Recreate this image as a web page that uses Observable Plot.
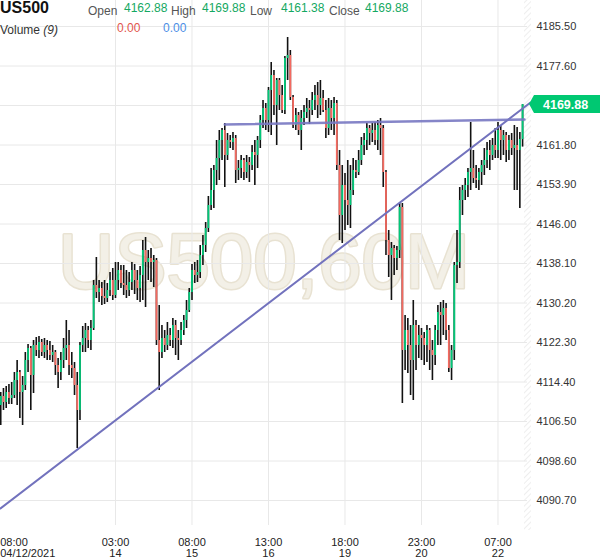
<!DOCTYPE html>
<html><head><meta charset="utf-8">
<script src="https://cdn.jsdelivr.net/npm/d3@7"></script>
<script src="https://cdn.jsdelivr.net/npm/@observablehq/plot@0.6"></script>
<style>
html,body{margin:0;padding:0;background:#fff;}
#chart{width:600px;height:558px;}
</style></head><body><div id="chart"></div>
<script>
// ---- data (60-minute bars, US500) ----
const symbol = "US500";
const watermark = "US500,60M";
const opens = [
4109.7,4111.5,4110.3,4112.3,4111.1,4111.7,4114.7,4116.3,4112.3,4113.7,
4118.7,4121.1,4115.7,4121.7,4120.7,4122.3,4120.3,4121.7,4120.7,4119.7,
4120.3,4117.7,4116.3,4118.7,4121.1,4121.7,4117.7,4117.1,4113.7,4108.7,
4121.7,4123.1,4124.7,4122.7,4125.1,4133.7,4132.3,4133.1,4131.5,4131.1,
4132.7,4134.7,4131.7,4134.7,4136.7,4134.1,4133.7,4132.7,4134.3,4136.7,
4134.7,4133.1,4135.7,4140.7,4138.3,4139.1,4138.3,4138.7,4122.7,4120.3,
4123.1,4121.7,4123.7,4122.7,4125.7,4123.1,4122.7,4124.7,4126.7,4128.7,
4132.3,4136.7,4135.7,4136.3,4139.7,4141.7,4145.1,4149.7,4152.7,4156.7,
4159.1,4162.7,4164.7,4159.7,4162.7,4162.3,4163.1,4156.7,4157.1,4158.7,
4156.3,4158.3,4157.7,4160.3,4159.7,4162.7,4166.7,4169.1,4166.7,4172.7,
4175.7,4169.7,4174.7,4171.7,4168.7,4179.1,4179.7,4171.3,4165.7,4167.7,
4164.7,4167.1,4168.3,4169.1,4168.7,4170.7,4171.7,4169.7,4171.1,4168.7,
4165.1,4169.1,4167.1,4170.1,4157.7,4147.7,4153.7,4150.7,4149.7,4152.7,
4156.7,4156.3,4158.7,4161.7,4162.7,4165.1,4164.1,4164.7,4162.7,4165.7,
4165.1,4156.3,4142.7,4139.7,4141.1,4139.1,4140.7,4149.3,4120.7,4124.7,
4121.7,4118.7,4125.7,4121.7,4123.7,4123.1,4121.7,4124.7,4120.7,4119.7,
4124.7,4128.3,4127.7,4129.1,4124.7,4117.1,4120.7,4137.7,4138.3,4150.7,
4152.7,4153.7,4156.3,4157.1,4155.1,4154.7,4156.3,4157.7,4158.7,4160.7,
4159.7,4161.7,4160.7,4164.7,4162.7,4163.7,4160.7,4162.7,4161.1,4161.7,
4160.7,4162.88];
const highs = [
4112.3,4113.1,4113.5,4113.9,4114.3,4116.3,4118.7,4116.7,4115.5,4120.3,
4121.9,4121.5,4122.7,4123.3,4123.5,4122.9,4123.1,4122.7,4122.5,4121.7,
4120.7,4119.1,4120.3,4123.1,4126.7,4124.7,4120.3,4118.3,4116.3,4122.3,
4125.5,4126.1,4125.5,4126.7,4134.7,4139.3,4134.7,4134.3,4134.7,4134.1,
4136.3,4137.1,4138.3,4138.3,4137.7,4137.7,4136.7,4136.3,4138.3,4137.9,
4136.7,4137.5,4142.7,4143.3,4140.7,4141.1,4139.7,4139.1,4129.7,4125.7,
4124.7,4126.3,4125.1,4127.1,4126.7,4124.7,4126.3,4127.7,4130.7,4133.1,
4137.9,4138.3,4138.7,4141.7,4143.7,4146.3,4151.5,4157.1,4157.7,4162.7,
4164.7,4165.1,4166.1,4164.1,4163.7,4164.3,4163.7,4158.7,4159.7,4159.1,
4159.7,4159.3,4161.7,4162.7,4163.5,4167.7,4170.7,4170.1,4173.3,4178.3,
4176.7,4175.1,4175.1,4173.7,4179.5,4183.3,4180.7,4171.7,4169.1,4168.3,
4168.7,4169.7,4171.1,4170.7,4172.3,4173.7,4174.3,4174.7,4172.7,4170.7,
4171.1,4170.7,4171.3,4170.7,4160.7,4157.7,4156.1,4158.7,4157.7,4159.1,
4158.7,4160.7,4163.3,4164.1,4166.1,4165.7,4166.1,4166.3,4166.7,4167.1,
4165.7,4156.7,4144.7,4142.3,4141.7,4141.5,4150.1,4150.1,4127.7,4127.1,
4125.7,4130.7,4126.7,4125.7,4125.1,4124.3,4125.7,4125.1,4122.7,4125.7,
4129.7,4130.3,4130.7,4130.1,4125.7,4121.7,4138.3,4144.7,4153.3,4153.7,
4155.1,4157.1,4166.3,4160.7,4157.7,4157.1,4158.7,4161.1,4162.3,4162.7,
4163.1,4165.1,4166.3,4165.7,4164.7,4164.3,4163.7,4164.1,4165.7,4165.3,
4164.3,4169.88];
const lows = [
4105.7,4108.7,4109.1,4109.9,4109.9,4111.1,4109.7,4107.1,4105.7,4112.7,
4116.3,4108.7,4112.1,4119.5,4119.1,4119.5,4119.1,4118.7,4118.7,4118.3,
4115.7,4113.1,4114.7,4117.1,4118.7,4115.7,4115.1,4111.7,4101.1,4106.7,
4120.3,4120.3,4121.1,4120.7,4124.7,4131.1,4130.3,4129.7,4129.9,4130.3,
4131.5,4130.7,4131.1,4132.7,4133.1,4131.7,4131.1,4131.5,4132.7,4131.9,
4130.7,4130.3,4130.7,4129.3,4134.7,4134.3,4133.3,4121.7,4112.7,4119.1,
4120.3,4120.7,4121.5,4121.1,4119.7,4118.7,4121.7,4123.7,4125.1,4128.3,
4130.7,4134.1,4134.3,4135.1,4137.7,4140.3,4144.3,4148.7,4149.1,4153.7,
4154.7,4158.7,4153.3,4158.7,4161.1,4160.7,4154.1,4154.7,4155.1,4154.7,
4155.1,4154.3,4156.7,4153.7,4157.1,4161.1,4165.1,4164.7,4164.3,4163.7,
4167.7,4161.7,4168.7,4168.1,4167.9,4174.7,4170.7,4165.1,4164.7,4163.7,
4160.7,4165.7,4167.1,4165.9,4167.7,4168.7,4167.1,4167.7,4168.3,4163.1,
4163.7,4164.7,4163.7,4156.7,4142.7,4142.1,4144.7,4145.7,4145.1,4151.7,
4155.1,4155.7,4157.7,4159.7,4160.7,4161.7,4162.3,4161.7,4160.7,4159.7,
4153.3,4139.7,4135.3,4130.7,4135.7,4136.7,4139.1,4110.1,4116.7,4116.1,
4111.7,4110.7,4116.7,4119.1,4118.7,4117.7,4118.3,4116.7,4114.7,4117.7,
4121.7,4121.7,4123.7,4122.7,4116.3,4114.7,4118.7,4134.1,4137.1,4147.7,
4150.7,4151.3,4152.7,4154.1,4153.1,4152.7,4153.7,4155.7,4157.1,4156.7,
4158.7,4159.1,4159.1,4158.7,4159.7,4158.3,4158.7,4159.7,4152.7,4152.7,
4149.1,4161.38];
const closes = [
4111.5,4110.3,4112.3,4111.1,4111.7,4114.7,4116.3,4112.3,4113.7,4118.7,
4121.1,4115.7,4121.7,4120.7,4122.3,4120.3,4121.7,4120.7,4119.7,4120.3,
4117.7,4116.3,4118.7,4121.1,4121.7,4117.7,4117.1,4113.7,4108.7,4121.7,
4123.1,4124.7,4122.7,4125.1,4133.7,4132.3,4133.1,4131.5,4131.1,4132.7,
4134.7,4131.7,4134.7,4136.7,4134.1,4133.7,4132.7,4134.3,4136.7,4134.7,
4133.1,4135.7,4140.7,4138.3,4139.1,4138.3,4138.7,4122.7,4120.3,4123.1,
4121.7,4123.7,4122.7,4125.7,4123.1,4122.7,4124.7,4126.7,4128.7,4132.3,
4136.7,4135.7,4136.3,4139.7,4141.7,4145.1,4149.7,4152.7,4156.7,4159.1,
4162.7,4164.7,4159.7,4162.7,4162.3,4163.1,4156.7,4157.1,4158.7,4156.3,
4158.3,4157.7,4160.3,4159.7,4162.7,4166.7,4169.1,4166.7,4172.7,4175.7,
4169.7,4174.7,4171.7,4168.7,4179.1,4179.7,4171.3,4165.7,4167.7,4164.7,
4167.1,4168.3,4169.1,4168.7,4170.7,4171.7,4169.7,4171.1,4168.7,4165.1,
4169.1,4167.1,4170.1,4157.7,4147.7,4153.7,4150.7,4149.7,4152.7,4156.7,
4156.3,4158.7,4161.7,4162.7,4165.1,4164.1,4164.7,4162.7,4165.7,4165.1,
4156.3,4142.7,4139.7,4141.1,4139.1,4140.7,4149.3,4120.7,4124.7,4121.7,
4118.7,4125.7,4121.7,4123.7,4123.1,4121.7,4124.7,4120.7,4119.7,4124.7,
4128.3,4127.7,4129.1,4124.7,4117.1,4120.7,4137.7,4138.3,4150.7,4152.7,
4153.7,4156.3,4157.1,4155.1,4154.7,4156.3,4157.7,4158.7,4160.7,4159.7,
4161.7,4160.7,4164.7,4162.7,4163.7,4160.7,4162.7,4161.1,4161.7,4160.7,
4162.9,4169.88];
const yTicks = [4185.5,4177.6,4169.7,4161.8,4153.9,4146.0,4138.1,4130.2,4122.3,4114.4,4106.5,4098.6,4090.7];
const yTickLabels = ["4185.50","4177.60",null,"4161.80","4153.90","4146.00","4138.10","4130.20","4122.30","4114.40","4106.50","4098.60","4090.70"];
const xTickBars = [0,42,70,98,126,154,182];
const xTickTimes = ["08:00","03:00","08:00","13:00","18:00","23:00","07:00"];
const xTickDays = ["04/12/2021","14","15","16","19","20","22"];
// trend lines drawn on the chart (bar index, price)
const trendDiagBars = [-0.1, 193.9];
const trendDiagPrices = [4089.1, 4170.3];
const trendFlatBars = [82, 191.7];
const trendFlatPrices = [4165.9, 4166.9];
const volumeValues = ["0.00","0.00"];
const volumeLabel = "Volume";
const volumeParam = "(9)";

// ---- chart ----
const green = "#00c878", red = "#f4695f", wickColor = "#111";
const bars = closes.map((c,i)=>({i, open:opens[i], high:highs[i], low:lows[i], close:c}));
const up = bars.filter(d=>d.close>=d.open);
const down = bars.filter(d=>d.close<d.open);
const xTicks = xTickBars.map((b,k)=>({b, t:xTickTimes[k], d:xTickDays[k]}));
const diag = trendDiagBars.map((b,k)=>({b, p:trendDiagPrices[k]}));
const flat = trendFlatBars.map((b,k)=>({b, p:trendFlatPrices[k]}));
const yLab = yTicks.map((v,k)=>({v, s:yTickLabels[k]})).filter(d=>d.s);
const font = "'Liberation Sans', Arial, sans-serif";

const chart = Plot.plot({
  width:600, height:558,
  marginLeft:0, marginRight:73, marginTop:0, marginBottom:33,
  style:{fontFamily:font, fontSize:"11px", background:"#fff", color:"#333", overflow:"visible"},
  x:{domain:[-0.09,192.8], axis:null},
  y:{domain:[4085.7,4190.7], axis:null},
  marks:[
    Plot.text([watermark], {frameAnchor:"middle", text:d=>d, fontSize:78, fill:"#f3f0e7", stroke:"#e8e2d2", strokeWidth:3, fontFamily:font}),
    Plot.gridY(yTicks, {stroke:"#e8e8e8", strokeOpacity:1}),
    Plot.gridX(xTickBars.slice(1), {stroke:"#e8e8e8", strokeOpacity:1}),
    Plot.text(yLab, {y:"v", text:"s", frameAnchor:"right", textAnchor:"start", dx:9, fill:"#333", fontSize:11}),
    Plot.text(xTicks.slice(1), {x:"b", text:d=>d.t+"\n"+d.d, frameAnchor:"bottom", lineAnchor:"top", dy:13, fill:"#222", fontSize:11, lineHeight:1}),
    Plot.text(xTicks.slice(0,1), {x:"b", text:d=>d.t+"\n"+d.d, frameAnchor:"bottom", lineAnchor:"top", dy:13, dx:-0.5, textAnchor:"start", fill:"#222", fontSize:11, lineHeight:1}),
    Plot.ruleX(bars, {x:"i", y1:"low", y2:"high", stroke:wickColor, strokeWidth:1.6}),
    Plot.ruleX(up, {x:"i", y1:"open", y2:"close", stroke:green, strokeWidth:1.8}),
    Plot.ruleX(down, {x:"i", y1:"open", y2:"close", stroke:red, strokeWidth:1.8}),
    Plot.line(diag, {x:"b", y:"p", stroke:"#7272bd", strokeWidth:2}),
    Plot.line(flat, {x:"b", y:"p", stroke:"#7878c2", strokeWidth:2.5, strokeOpacity:0.9})
  ]
});
document.getElementById("chart").appendChild(chart);

// decorations using the plot's own scales
const svg = d3.select(chart);
const ys = chart.scale("y");
const yf = ys.apply ? ys.apply : d3.scaleLinear(ys.domain, ys.range);
const defs = svg.insert("defs", ":first-child");
const pat = defs.append("pattern").attr("id","hatch").attr("patternUnits","userSpaceOnUse")
  .attr("width",4).attr("height",4).attr("patternTransform","rotate(45)");
pat.append("line").attr("x1",0).attr("y1",0).attr("x2",0).attr("y2",4).attr("stroke","#e3e3e3").attr("stroke-width",1.2);
svg.insert("rect", "defs + *").attr("x",524).attr("y",0).attr("width",7).attr("height",530).attr("fill","url(#hatch)");

// last price badge
const last = bars[bars.length-1];
const by = yf(last.close);
svg.append("path").attr("d",`M529,${by} L534,${by-9} L600,${by-9} L600,${by+9} L534,${by+9} Z`).attr("fill","#00c872");
svg.append("text").attr("x",543).attr("y",by+4.5).attr("text-anchor","start").attr("fill","#fff").attr("font-weight","bold")
  .attr("font-size",12.5).attr("font-family",font).text(last.close.toFixed(2));

// header
const hdr = svg.append("g").attr("font-family",font).attr("text-anchor","start");
hdr.append("text").attr("x",0).attr("y",13).attr("font-size",16).attr("font-weight","bold").attr("fill","#111").text(symbol);
const labs = [["Open",88,124,last.open],["High",171,202,last.high],["Low",250,281,last.low],["Close",329,365,last.close]];
labs.forEach(([t,lx,vx,v])=>{
  hdr.append("text").attr("x",lx).attr("y",15).attr("font-size",12).attr("fill","#555").text(t);
  hdr.append("text").attr("x",vx).attr("y",12).attr("font-size",12).attr("fill","#14a862").text(v.toFixed(2));
});
const vt = hdr.append("text").attr("x",0).attr("y",34).attr("font-size",12).attr("fill","#333");
vt.append("tspan").text(volumeLabel+" ");
vt.append("tspan").attr("font-style","italic").text(volumeParam);
hdr.append("text").attr("x",117).attr("y",32).attr("font-size",12).attr("fill","#e2554c").text(volumeValues[0]);
hdr.append("text").attr("x",163).attr("y",32).attr("font-size",12).attr("fill","#4b8ee6").text(volumeValues[1]);
</script></body></html>
